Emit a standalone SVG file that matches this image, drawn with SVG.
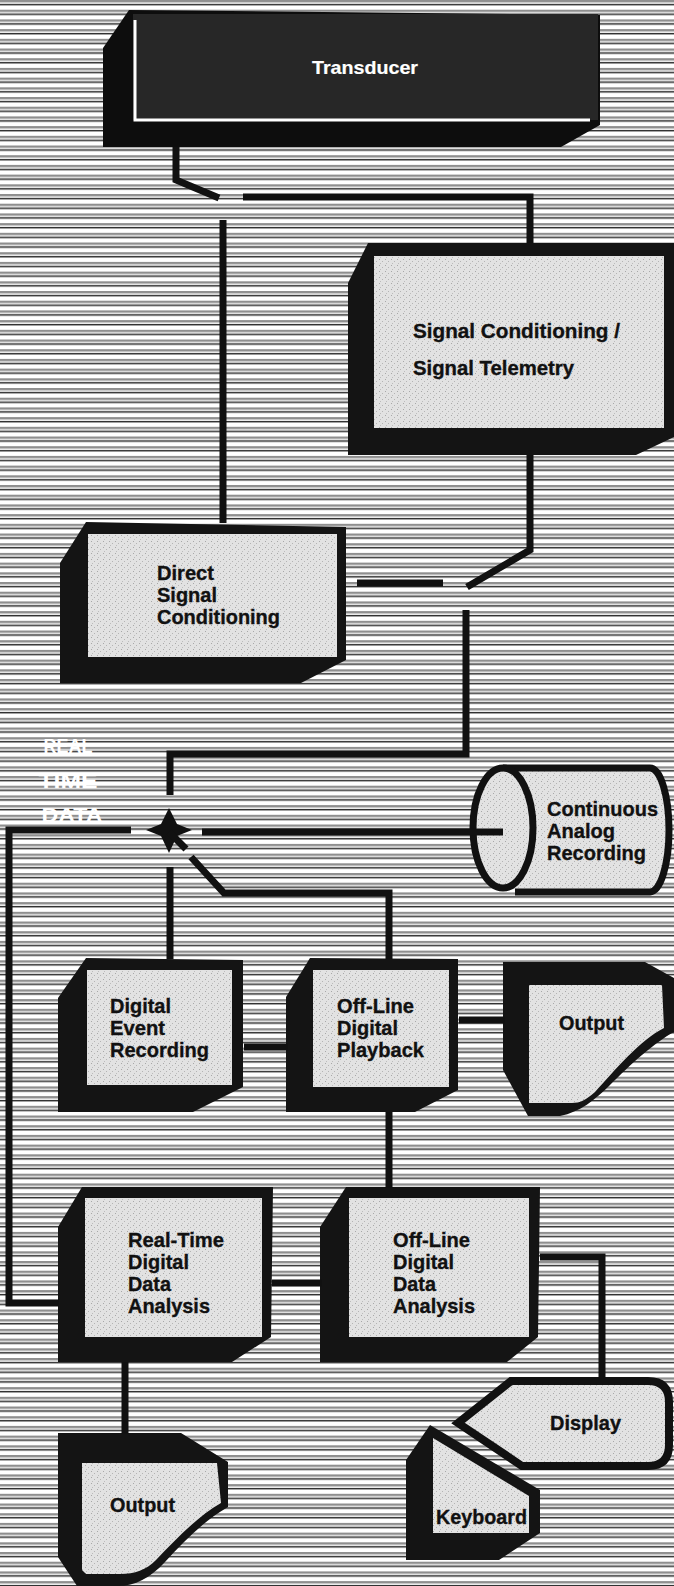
<svg xmlns="http://www.w3.org/2000/svg" width="674" height="1586" viewBox="0 0 674 1586">
<defs>
<pattern id="stripes" patternUnits="userSpaceOnUse" width="10" height="9.7">
<rect width="10" height="9.7" fill="#ffffff"/>
<rect y="0" width="10" height="2.4" fill="#8f8f8f"/>
<rect y="3.8" width="10" height="1.5" fill="#2e2e2e"/>
</pattern>
<pattern id="stipple" patternUnits="userSpaceOnUse" width="6" height="6">
<rect width="6" height="6" fill="#e2e2e2"/>
<rect x="1" y="1" width="1" height="1" fill="#a8a8a8"/>
<rect x="4" y="3" width="1" height="1" fill="#b4b4b4"/>
<rect x="2" y="5" width="1" height="1" fill="#bcbcbc"/>
</pattern>
<style>
.frame{fill:#141414}
.face{fill:url(#stipple)}
.wire{fill:none;stroke:#111;stroke-width:7;stroke-linecap:butt;stroke-linejoin:miter}
.lbl{font-family:"Liberation Sans",Arial,sans-serif;font-weight:bold;font-size:21px;fill:#111;stroke:#111;stroke-width:0.35}
.rt{font-family:"Liberation Sans",Arial,sans-serif;font-weight:bold;font-size:21px;fill:#ffffff}
</style>
</defs>
<rect x="0" y="0" width="674" height="1586" fill="url(#stripes)"/>

<g id="transducer">
<path d="M129,10 L600,15 L600,125 L561,147 L103,147 L103,48 Z" fill="#0d0d0d"/>
<rect x="133" y="14" width="465" height="106" fill="#272727"/>
<path d="M135,20 V120 H590" fill="none" stroke="#ffffff" stroke-width="3"/>
<text x="365" y="74" text-anchor="middle" class="lbl" style="fill:#ffffff;stroke:#ffffff;stroke-width:0.2;font-size:19px" textLength="106" lengthAdjust="spacingAndGlyphs">Transducer</text>
</g>

<g id="signal-conditioning">
<path class="frame" d="M368,243 L674,243 L674,437 L636,455 L348,455 L348,283 Z"/>
<rect class="face" x="374" y="256" width="290" height="172"/>
<text class="lbl" x="413" y="338" textLength="207" lengthAdjust="spacingAndGlyphs">Signal Conditioning /</text>
<text class="lbl" x="413" y="375" textLength="161" lengthAdjust="spacingAndGlyphs">Signal Telemetry</text>
</g>

<g id="direct-signal-conditioning">
<path class="frame" d="M86,522 L346,527 L346,660 L301,683 L60,683 L60,563 Z"/>
<rect class="face" x="88" y="534" width="249" height="123"/>
<text class="lbl" x="157" y="580" textLength="57" lengthAdjust="spacingAndGlyphs">Direct</text>
<text class="lbl" x="157" y="602" textLength="60" lengthAdjust="spacingAndGlyphs">Signal</text>
<text class="lbl" x="157" y="624" textLength="123" lengthAdjust="spacingAndGlyphs">Conditioning</text>
</g>

<g id="real-time-data">
<text class="rt" x="68" y="753" text-anchor="middle" textLength="49" lengthAdjust="spacingAndGlyphs">REAL</text>
<text class="rt" x="68" y="788" text-anchor="middle" textLength="59" lengthAdjust="spacingAndGlyphs">TIME</text>
<text class="rt" x="72" y="822" text-anchor="middle" textLength="61" lengthAdjust="spacingAndGlyphs">DATA</text>
</g>

<g id="continuous-analog-recording">
<path d="M503,768 H650 A19,62 0 0 1 650,892 H515" fill="url(#stipple)" stroke="#111" stroke-width="7"/>
<ellipse cx="503" cy="828" rx="30" ry="60" fill="url(#stipple)" stroke="#111" stroke-width="7"/>
<text class="lbl" x="547" y="816" textLength="111" lengthAdjust="spacingAndGlyphs">Continuous</text>
<text class="lbl" x="547" y="838" textLength="68" lengthAdjust="spacingAndGlyphs">Analog</text>
<text class="lbl" x="547" y="860" textLength="99" lengthAdjust="spacingAndGlyphs">Recording</text>
</g>

<g id="digital-event-recording">
<path class="frame" d="M86,958 L243,960 L243,1087 L193,1112 L58,1112 L58,998 Z"/>
<rect class="face" x="87" y="970" width="145" height="115"/>
<text class="lbl" x="110" y="1013" textLength="61" lengthAdjust="spacingAndGlyphs">Digital</text>
<text class="lbl" x="110" y="1035" textLength="55" lengthAdjust="spacingAndGlyphs">Event</text>
<text class="lbl" x="110" y="1057" textLength="99" lengthAdjust="spacingAndGlyphs">Recording</text>
</g>

<g id="offline-digital-playback">
<path class="frame" d="M310,958 L458,959 L458,1090 L415,1112 L286,1112 L286,997 Z"/>
<rect class="face" x="313" y="970" width="136" height="117"/>
<text class="lbl" x="337" y="1013" textLength="77" lengthAdjust="spacingAndGlyphs">Off-Line</text>
<text class="lbl" x="337" y="1035" textLength="61" lengthAdjust="spacingAndGlyphs">Digital</text>
<text class="lbl" x="337" y="1057" textLength="87" lengthAdjust="spacingAndGlyphs">Playback</text>
</g>

<g id="output-upper">
<path class="frame" d="M503,962 L645,962 L674,978 L674,1032 C655,1042 630,1065 610,1085 C595,1100 580,1112 560,1116 L528,1116 L503,1070 Z"/>
<path class="face" d="M529,985 L662,985 L664,1028 C640,1040 615,1070 595,1092 C586,1100 580,1103 572,1103 L529,1103 Z"/>
<text class="lbl" x="559" y="1030" textLength="65" lengthAdjust="spacingAndGlyphs">Output</text>
</g>

<g id="realtime-digital-data-analysis">
<path class="frame" d="M82,1187 L273,1187 L271,1337 L232,1362 L58,1362 L58,1227 Z"/>
<rect class="face" x="85" y="1198" width="177" height="139"/>
<text class="lbl" x="128" y="1247" textLength="96" lengthAdjust="spacingAndGlyphs">Real-Time</text>
<text class="lbl" x="128" y="1269" textLength="61" lengthAdjust="spacingAndGlyphs">Digital</text>
<text class="lbl" x="128" y="1291" textLength="43" lengthAdjust="spacingAndGlyphs">Data</text>
<text class="lbl" x="128" y="1313" textLength="82" lengthAdjust="spacingAndGlyphs">Analysis</text>
</g>

<g id="offline-digital-data-analysis">
<path class="frame" d="M346,1187 L540,1187 L538,1337 L507,1362 L320,1362 L320,1227 Z"/>
<rect class="face" x="349" y="1198" width="180" height="139"/>
<text class="lbl" x="393" y="1247" textLength="77" lengthAdjust="spacingAndGlyphs">Off-Line</text>
<text class="lbl" x="393" y="1269" textLength="61" lengthAdjust="spacingAndGlyphs">Digital</text>
<text class="lbl" x="393" y="1291" textLength="43" lengthAdjust="spacingAndGlyphs">Data</text>
<text class="lbl" x="393" y="1313" textLength="82" lengthAdjust="spacingAndGlyphs">Analysis</text>
</g>

<g id="output-lower">
<path class="frame" d="M58,1433 L181,1433 L228,1462 L228,1507 C205,1520 185,1540 165,1562 C150,1578 135,1586 118,1586 L77,1586 L58,1557 Z"/>
<path class="face" d="M82,1463 L217,1463 L221,1503 C198,1516 175,1540 156,1560 C146,1570 135,1574 120,1574 L86,1574 L82,1570 Z"/>
<text class="lbl" x="110" y="1512" textLength="65" lengthAdjust="spacingAndGlyphs">Output</text>
</g>

<g id="display">
<path d="M511,1381 L648,1381 Q669,1381 669,1402 L669,1445 Q669,1466 648,1466 L522,1466 L458,1423 Z" fill="url(#stipple)" stroke="#111" stroke-width="8" stroke-linejoin="miter"/>
<text class="lbl" x="550" y="1430" textLength="71" lengthAdjust="spacingAndGlyphs">Display</text>
</g>

<g id="keyboard">
<path class="frame" d="M430,1425 L540,1490 L540,1533 L499,1560 L406,1560 L406,1460 Z"/>
<path class="face" d="M433,1438 L529,1496 L529,1533 L433,1533 Z"/>
<text class="lbl" x="436" y="1524" textLength="91" lengthAdjust="spacingAndGlyphs">Keyboard</text>
</g>

<g id="connectors">
<path class="wire" d="M176,147 V180 L219,198"/>
<path class="wire" d="M243,197 H530 V243"/>
<path class="wire" d="M223,220 V523"/>
<path class="wire" d="M530,455 V550 L467,587"/>
<path class="wire" d="M357,583 H443"/>
<path class="wire" d="M466,610 V754 H170 V795"/>
<polygon points="169,808 177,824 192,830 177,836 169,853 161,836 146,830 161,824" fill="#111"/>
<path class="wire" d="M169,832 L186,849"/>
<path class="wire" d="M131,830 H9 V1303 H59"/>
<path class="wire" d="M202,832 H503"/>
<path class="wire" d="M191,857 L224,893 H389 V959"/>
<path class="wire" d="M170,867 V959"/>
<path class="wire" d="M244,1047 H288"/>
<path class="wire" d="M459,1020 H505"/>
<path class="wire" d="M389,1112 V1188"/>
<path class="wire" d="M272,1283 H322"/>
<path class="wire" d="M540,1257 H602 V1378"/>
<path class="wire" d="M125,1362 V1434"/>
</g>
</svg>
